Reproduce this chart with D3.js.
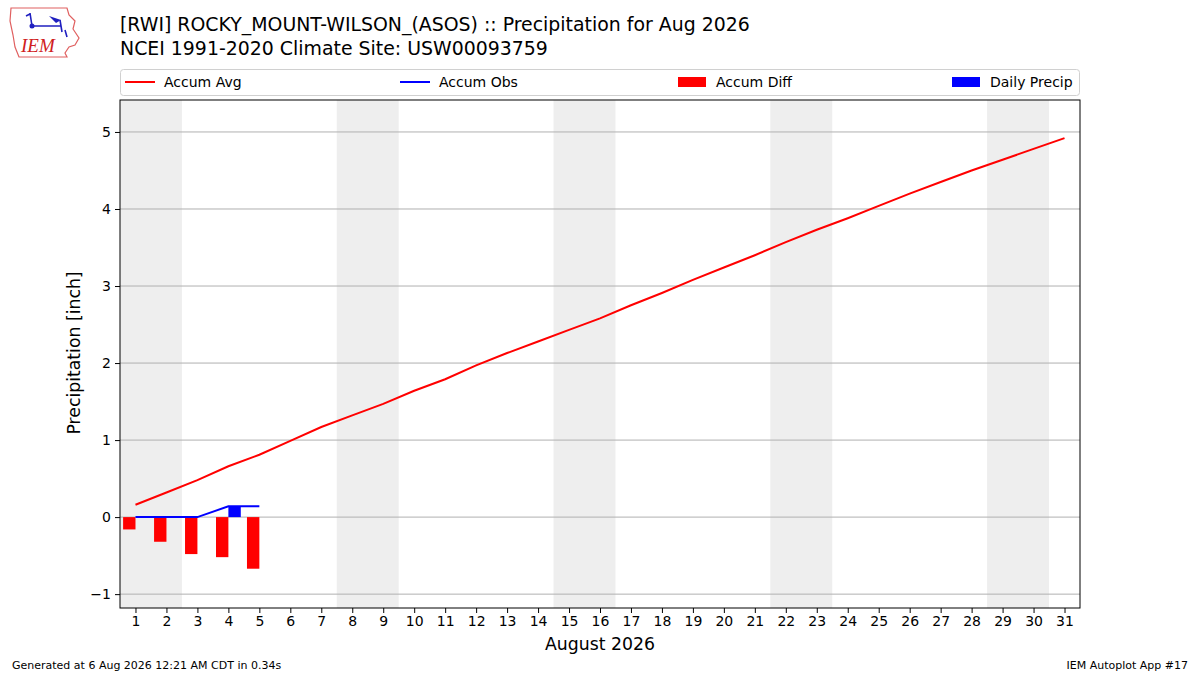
<!DOCTYPE html>
<html>
<head>
<meta charset="utf-8">
<script src="https://cdn.jsdelivr.net/npm/d3@7"></script>
<style>
  body { margin: 0; background: #fff; }
  svg { font-family: "DejaVu Sans", sans-serif; }
</style>
</head>
<body>
<svg id="chart" width="1200" height="675"></svg>
<script>
// chart values
const days = d3.range(1, 32)
const accumAvg = [0.16, 0.32, 0.48, 0.66, 0.81, 0.99, 1.17, 1.32, 1.47, 1.64, 1.79, 1.97, 2.13, 2.28,
                  2.43, 2.58, 2.75, 2.91, 3.08, 3.24, 3.40, 3.57, 3.73, 3.88, 4.04, 4.20, 4.35, 4.50,
                  4.64, 4.78, 4.92]
const obsDays = [1, 2, 3, 4, 5]
const dailyPrecip = [0, 0, 0, 0.14, 0]
const accumObs = [0, 0, 0, 0.14, 0.14]
const weekendStarts = [1, 8, 15, 22, 29]
const yTicks = [-1, 0, 1, 2, 3, 4, 5]

const titleLines = ['[RWI] ROCKY_MOUNT-WILSON_(ASOS) :: Precipitation for Aug 2026',
                    'NCEI 1991-2020 Climate Site: USW00093759']
const legendItems = [
  {label: 'Accum Avg', type: 'line', color: 'red'},
  {label: 'Accum Obs', type: 'line', color: 'blue'},
  {label: 'Accum Diff', type: 'patch', color: 'red'},
  {label: 'Daily Precip', type: 'patch', color: 'blue'}
]

const svg = d3.select('#chart')
const m = {left: 120, right: 1080, top: 100, bottom: 608}

const x = d3.scaleLinear().domain([0.5, 31.5]).range([m.left, m.right])
const y = d3.scaleLinear().domain([-1.18, 5.415]).range([m.bottom, m.top])

// weekend shading
svg.append('g').selectAll('rect').data(weekendStarts).join('rect')
  .attr('x', d => x(d - 0.5))
  .attr('width', d => x(d + 1.5) - x(d - 0.5))
  .attr('y', m.top).attr('height', m.bottom - m.top)
  .attr('fill', '#eeeeee')

// grid
svg.append('g').selectAll('line').data(yTicks).join('line')
  .attr('x1', m.left).attr('x2', m.right)
  .attr('y1', d => y(d)).attr('y2', d => y(d))
  .attr('stroke', '#b0b0b0').attr('stroke-width', 1)

// accum diff bars (left of day) and daily precip (right of day)
const diff = obsDays.map((d, i) => ({day: d, v: accumObs[i] - accumAvg[i]}))
svg.append('g').selectAll('rect').data(diff).join('rect')
  .attr('x', d => x(d.day - 0.4))
  .attr('width', d => x(d.day) - x(d.day - 0.4))
  .attr('y', d => y(Math.max(0, d.v)))
  .attr('height', d => Math.abs(y(d.v) - y(0)))
  .attr('fill', 'red')

svg.append('g').selectAll('rect').data(obsDays.map((d, i) => ({day: d, v: dailyPrecip[i]}))).join('rect')
  .attr('x', d => x(d.day))
  .attr('width', d => x(d.day + 0.4) - x(d.day))
  .attr('y', d => y(Math.max(0, d.v)))
  .attr('height', d => Math.abs(y(d.v) - y(0)))
  .attr('fill', 'blue')

// lines
const line = d3.line().x(d => x(d[0])).y(d => y(d[1]))
svg.append('path').datum(days.map((d, i) => [d, accumAvg[i]]))
  .attr('d', line).attr('fill', 'none').attr('stroke', 'red').attr('stroke-width', 2)
svg.append('path').datum(obsDays.map((d, i) => [d, accumObs[i]]))
  .attr('d', line).attr('fill', 'none').attr('stroke', 'blue').attr('stroke-width', 2)

// axes
const xAxis = svg.append('g').attr('transform', `translate(0,${m.bottom})`)
  .call(d3.axisBottom(x).tickValues(days).tickSize(5).tickPadding(3).tickFormat(d3.format('d')))
const yAxis = svg.append('g').attr('transform', `translate(${m.left},0)`)
  .call(d3.axisLeft(y).tickValues(yTicks).tickSize(5).tickPadding(4).tickFormat(d => d < 0 ? '\u2212' + Math.abs(d) : d))
;[xAxis, yAxis].forEach(a => {
  a.select('.domain').remove()
  a.selectAll('text').attr('font-size', 14).attr('fill', '#000').attr('font-family', '"DejaVu Sans", sans-serif')
  a.selectAll('line').attr('stroke', '#000')
})

svg.append('rect').attr('x', m.left).attr('y', m.top)
  .attr('width', m.right - m.left).attr('height', m.bottom - m.top)
  .attr('fill', 'none').attr('stroke', '#000').attr('stroke-width', 1)

// axis labels
svg.append('text').attr('x', (m.left + m.right) / 2).attr('y', 650)
  .attr('text-anchor', 'middle').attr('font-size', 17.3).text('August 2026')
svg.append('text').attr('transform', 'translate(80,353) rotate(-90)')
  .attr('text-anchor', 'middle').attr('font-size', 17.3).text('Precipitation [inch]')

// titles
svg.selectAll('text.title').data(titleLines).join('text').attr('class', 'title')
  .attr('x', 120).attr('y', (d, i) => 31 + i * 23.5)
  .attr('font-size', 18.9).text(d => d)

// legend
svg.append('rect').attr('x', 120.5).attr('y', 69.5).attr('width', 959).attr('height', 26)
  .attr('rx', 3).attr('fill', '#fff').attr('stroke', '#d0d0d0')
const legendX = [125, 400, 678, 952]
const lg = svg.append('g').selectAll('g').data(legendItems).join('g')
  .attr('transform', (d, i) => `translate(${legendX[i]},82)`)
lg.filter(d => d.type === 'line').append('line')
  .attr('x1', 0).attr('x2', 30).attr('stroke', d => d.color).attr('stroke-width', 2)
lg.filter(d => d.type === 'patch').append('rect')
  .attr('x', 0).attr('y', -5).attr('width', 28).attr('height', 10).attr('fill', d => d.color)
lg.append('text').attr('x', d => d.type === 'line' ? 39 : 38).attr('y', 5)
  .attr('font-size', 14).text(d => d.label)

// footer
svg.append('text').attr('x', 12).attr('y', 669).attr('font-size', 11).text('Generated at 6 Aug 2026 12:21 AM CDT in 0.34s')
svg.append('text').attr('x', 1188).attr('y', 669).attr('text-anchor', 'end').attr('font-size', 11).text('IEM Autoplot App #17')

// rough IEM logo
const logo = svg.append('g').attr('transform', 'translate(9,7)')
logo.append('path')
  .attr('d', 'M2,1 L58,1 L60,8 L66,14 L64,22 L70,31 L66,38 L60,40 L56,46 L58,50 L10,50 L6,40 L4,28 L1,14 Z')
  .attr('fill', 'none').attr('stroke', '#e06060').attr('stroke-width', 1.2)
logo.append('path').attr('d', 'M23,19 L52,19 M51,13 L53,25 M56,23 L58,30 M21,6 L23,19 M17,9 L21,7')
  .attr('fill', 'none').attr('stroke', '#2020c0').attr('stroke-width', 1.6)
logo.append('circle').attr('cx', 23).attr('cy', 19).attr('r', 2.5).attr('fill', '#2020c0')
logo.append('path').attr('d', 'M40,9 L52,13 L47,16 Z').attr('fill', '#2020c0')
logo.append('text').attr('x', 12).attr('y', 45).attr('font-family', '"Liberation Serif", serif')
  .attr('font-style', 'italic').attr('font-size', 19).attr('fill', '#d02020').text('IEM')
</script>
</body>
</html>
